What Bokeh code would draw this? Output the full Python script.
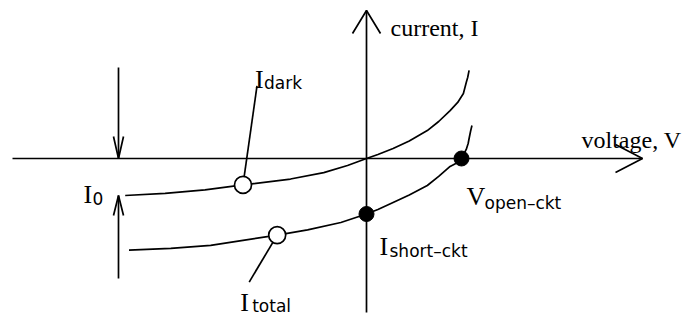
from bokeh.plotting import figure
from bokeh.models import Range1d
from bokeh.core.properties import value
from bokeh.embed import file_html
from bokeh.resources import INLINE

# Current-voltage characteristic of an illuminated solar cell (arbitrary units)
dark_v = [-2.54, -2.12, -1.70, -1.30, -0.80, -0.45, -0.20, 0.00, 0.12, 0.28,
          0.45, 0.64, 0.76, 0.88, 0.96, 1.02, 1.05, 1.065, 1.08]
dark_i = [-2.00, -1.89, -1.70, -1.43, -1.11, -0.76, -0.38, 0.00, 0.22, 0.54,
          0.95, 1.51, 2.00, 2.59, 3.03, 3.51, 4.11, 4.38, 4.76]

total_v = [-2.50, -2.06, -1.64, -1.30, -0.94, -0.62, -0.27, 0.00, 0.12, 0.28,
           0.45, 0.64, 0.76, 0.88, 0.94, 1.00, 1.05, 1.07, 1.08, 1.095, 1.11]
total_i = [-4.95, -4.86, -4.70, -4.43, -4.14, -3.86, -3.46, -3.00, -2.76, -2.38,
           -1.97, -1.46, -0.97, -0.43, -0.27, 0.00, 0.49, 0.81, 1.08, 1.46, 1.78]

i_sat = 2.0          # I0, reverse saturation current
i_short = -3.0       # short-circuit current
v_open = 1.0         # open-circuit voltage

dark_mark = (-1.30, -1.43)    # open circle on the dark curve
total_mark = (-0.94, -4.14)   # open circle on the illuminated curve

# ---- layout -------------------------------------------------------------
W, H = 688, 320
PX_V, PX_I = 95.0, 18.5        # pixels per unit of voltage / current
ORIGIN_X, ORIGIN_Y = 366, 158  # origin position, pixels from top-left

def dx(px):
    return px / PX_V

def dy(px):
    return px / PX_I

p = figure(width=W, height=H,
           x_range=Range1d(-ORIGIN_X / PX_V, (W - ORIGIN_X) / PX_V),
           y_range=Range1d(-(H - ORIGIN_Y) / PX_I, ORIGIN_Y / PX_I),
           x_axis_type=None, y_axis_type=None,
           toolbar_location=None, output_backend="svg",
           min_border=0, outline_line_color=None,
           background_fill_color="white", border_fill_color="white")

INK = "black"
LW = 1.7

def arrow(x0, y0, x1, y1, direction, back, half):
    """Shaft from (x0,y0) to the tip (x1,y1) plus an open head (sizes in px)."""
    p.line([x0, x1], [y0, y1], line_color=INK, line_width=LW)
    if direction == "right":
        wx = [x1 - dx(back), x1, x1 - dx(back)]
        wy = [y1 + dy(half), y1, y1 - dy(half)]
    elif direction == "up":
        wx = [x1 - dx(half), x1, x1 + dx(half)]
        wy = [y1 - dy(back), y1, y1 - dy(back)]
    else:
        wx = [x1 - dx(half), x1, x1 + dx(half)]
        wy = [y1 + dy(back), y1, y1 + dy(back)]
    p.line(wx, wy, line_color=INK, line_width=LW)

# coordinate axes
arrow(-dx(354), 0, dx(276), 0, "right", 27, 14)
arrow(0, -dy(154), 0, dy(148), "up", 23, 14)

# I0 markers on the left
i0_x = -dx(248)
arrow(i0_x, dy(91), i0_x, 0, "down", 22, 5)
arrow(i0_x, -dy(120), i0_x, -i_sat, "up", 20, 5)

# curves
p.line(dark_v, dark_i, line_color=INK, line_width=LW, line_join="round")
p.line(total_v, total_i, line_color=INK, line_width=LW, line_join="round")

# leader lines to the open circles
p.line([dark_mark[0] + dx(14), dark_mark[0]], [dark_mark[1] + dy(99), dark_mark[1]],
       line_color=INK, line_width=LW)
p.line([total_mark[0] - dx(28), total_mark[0]], [total_mark[1] - dy(47), total_mark[1]],
       line_color=INK, line_width=LW)

# points
p.scatter([dark_mark[0], total_mark[0]], [dark_mark[1], total_mark[1]], size=17,
          fill_color="white", line_color=INK, line_width=LW)
p.scatter([0, v_open], [i_short, 0], size=15, fill_color=INK, line_color=INK)

SERIF = value("Liberation Serif")
SANS = value("DejaVu Sans")

def txt(x, y, s, font, size):
    p.text([x], [y], text=[s], text_font=font, text_font_size=size,
           text_baseline="alphabetic", text_align="left", text_color=INK)

def sym(ax, ay, main, sub, ox, oy, sx, sy):
    txt(ax + dx(ox), ay - dy(oy), main, SERIF, "26px")
    txt(ax + dx(sx), ay - dy(sy), sub, SANS, "17px")

# axis titles
txt(dx(24), dy(148) - dy(17), "current, I", SERIF, "24px")
txt(dx(276) - dx(61), dy(19), "voltage, V", SERIF, "24px")

# symbol labels
sym(dark_mark[0], dark_mark[1], "I", "dark", 12, -105, 21, -102)
sym(total_mark[0], total_mark[1], "I", "total", -37, 67, -25, 71)
sym(v_open, 0, "V", "open\u2013ckt", 5, 38, 23, 44)
sym(0, i_short, "I", "short\u2013ckt", 13, 32, 23, 37)
sym(i0_x, -i_sat, "I", "0", -35, -1, -26, 3)

open("out.html", "w").write(file_html(p, INLINE))
